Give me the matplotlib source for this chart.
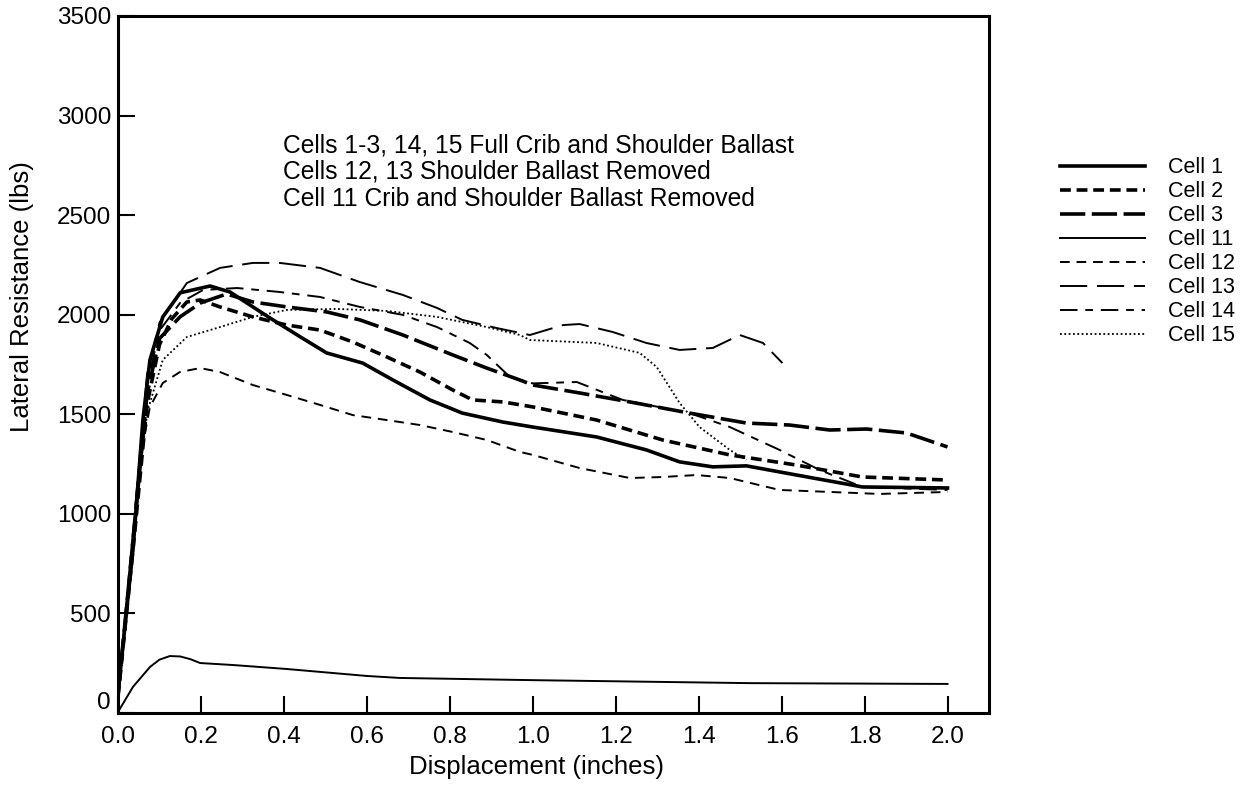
import matplotlib
matplotlib.use("Agg")
import matplotlib.pyplot as plt
from matplotlib.transforms import ScaledTranslation

plt.rcParams['font.family'] = ['Liberation Sans', 'DejaVu Sans']

# Cell curves (displacement in inches, resistance in lbs)
c1_x = [0.0, 0.036, 0.06, 0.077, 0.108, 0.15, 0.222, 0.27, 0.366, 0.44, 0.503, 0.59, 0.663,
        0.752, 0.83, 0.928, 1.0, 1.154, 1.274, 1.354, 1.434, 1.515, 1.636, 1.795, 2.0]
c1_y = [100, 818, 1471, 1773, 1989, 2110, 2144, 2114, 1984, 1888, 1808, 1757, 1672,
        1572, 1506, 1461, 1436, 1386, 1321, 1261, 1236, 1241, 1195, 1135, 1130]

c2_x = [0.0, 0.04, 0.07, 0.1, 0.13, 0.166, 0.198, 0.246, 0.325, 0.407, 0.487, 0.566, 0.648,
        0.728, 0.807, 0.855, 0.928, 1.0, 1.154, 1.313, 1.475, 1.636, 1.795, 2.0]
c2_y = [80, 900, 1550, 1850, 1980, 2064, 2074, 2039, 1989, 1948, 1923, 1863, 1788,
        1712, 1622, 1572, 1562, 1537, 1471, 1371, 1296, 1245, 1185, 1170]

c3_x = [0.0, 0.04, 0.07, 0.1, 0.15, 0.2, 0.262, 0.325, 0.407, 0.503, 0.583, 0.687, 0.807,
        0.889, 0.969, 1.0, 1.113, 1.234, 1.378, 1.515, 1.619, 1.716, 1.805, 1.901, 2.0]
c3_y = [90, 950, 1600, 1880, 1990, 2060, 2104, 2064, 2039, 2014, 1974, 1898, 1798,
        1732, 1672, 1647, 1607, 1562, 1506, 1456, 1446, 1421, 1426, 1406, 1336]

c11_x = [0.0, 0.036, 0.077, 0.1, 0.125, 0.15, 0.175, 0.198, 0.277, 0.407, 0.6, 0.68, 1.0,
         1.523, 2.0]
c11_y = [5, 131, 231, 268, 286, 284, 270, 251, 241, 221, 186, 176, 165, 150, 146]

c12_x = [0.0, 0.035, 0.06, 0.077, 0.108, 0.149, 0.198, 0.246, 0.325, 0.407, 0.487, 0.566,
         0.648, 0.728, 0.807, 0.889, 0.969, 1.0, 1.113, 1.234, 1.313, 1.395, 1.475, 1.595,
         1.716, 1.836, 2.0]
c12_y = [80, 800, 1350, 1537, 1657, 1712, 1732, 1712, 1647, 1597, 1547, 1496,
         1471, 1446, 1411, 1371, 1311, 1296, 1230, 1180, 1185, 1195, 1180, 1120,
         1110, 1100, 1110]

c13_x = [0.0, 0.04, 0.07, 0.1, 0.166, 0.246, 0.325, 0.39, 0.487, 0.583, 0.687, 0.769, 0.83,
         0.913, 0.993, 1.073, 1.113, 1.193, 1.274, 1.354, 1.434, 1.499, 1.555, 1.602]
c13_y = [100, 1000, 1700, 1960, 2159, 2235, 2260, 2260, 2235, 2164, 2099, 2034, 1974,
         1933, 1898, 1948, 1953, 1913, 1858, 1823, 1833, 1898, 1858, 1757]

c14_x = [0.0, 0.04, 0.07, 0.1, 0.15, 0.205, 0.287, 0.39, 0.487, 0.583, 0.687, 0.769, 0.848,
         0.889, 0.945, 1.0, 1.106, 1.217, 1.378, 1.475, 1.595, 1.692, 1.795, 2.0]
c14_y = [100, 950, 1650, 1920, 2060, 2124, 2134, 2114, 2089, 2039, 1999, 1938, 1858,
         1798, 1687, 1655, 1662, 1572, 1506, 1436, 1321, 1220, 1135, 1120]

c15_x = [0.0, 0.035, 0.06, 0.072, 0.108, 0.166, 0.246, 0.325, 0.407, 0.528, 0.648, 0.769,
         0.889, 0.969, 0.993, 1.154, 1.258, 1.299, 1.354, 1.402, 1.475, 1.515]
c15_y = [60, 800, 1350, 1522, 1773, 1888, 1938, 1989, 2024, 2029, 2019, 1989,
         1938, 1898, 1873, 1858, 1808, 1737, 1557, 1436, 1321, 1271]

labels = ["Cell 1", "Cell 2", "Cell 3", "Cell 11", "Cell 12", "Cell 13", "Cell 14", "Cell 15"]

x_ticks = [0.0, 0.2, 0.4, 0.6, 0.8, 1.0, 1.2, 1.4, 1.6, 1.8, 2.0]
y_ticks = [0, 500, 1000, 1500, 2000, 2500, 3000, 3500]

note = ("Cells 1-3, 14, 15 Full Crib and Shoulder Ballast\n"
        "Cells 12, 13 Shoulder Ballast Removed\n"
        "Cell 11 Crib and Shoulder Ballast Removed")

fig = plt.figure(figsize=(12.5, 7.98), dpi=100)
ax = fig.add_axes([0.0944, 0.1065, 0.6968, 0.8735])

k = 'black'
ax.plot(c1_x, c1_y, color=k, lw=2.6, ls='-', label=labels[0])
ax.plot(c2_x, c2_y, color=k, lw=2.6, ls=(0, (3, 1.6)), label=labels[1])
ax.plot(c3_x, c3_y, color=k, lw=2.6, ls=(0, (7, 1.8)), label=labels[2])
ax.plot(c11_x, c11_y, color=k, lw=1.4, ls='-', label=labels[3])
ax.plot(c12_x, c12_y, color=k, lw=1.4, ls=(0, (5, 3.5)), label=labels[4])
ax.plot(c13_x, c13_y, color=k, lw=1.4, ls=(0, (14, 5)), label=labels[5])
ax.plot(c14_x, c14_y, color=k, lw=1.4, ls=(0, (9, 4, 4, 4)), label=labels[6])
ax.plot(c15_x, c15_y, color=k, lw=1.3, ls=(0, (1, 1.4)), label=labels[7])

ax.set_xlim(0, 2.1)
ax.set_ylim(0, 3500)
ax.set_xticks(x_ticks)
ax.set_xticklabels(["%.1f" % v for v in x_ticks])
ax.set_yticks(y_ticks)
ax.tick_params(direction='in', length=12, width=1.5, labelsize=17.5)
ax.tick_params(axis='x', pad=9)
ax.tick_params(axis='y', pad=5)
for s in ax.spines.values():
    s.set_linewidth(2.2)

# the "0" on the y axis sits a little above its tick, clear of "0.0"
zero_lbl = ax.get_yticklabels()[0]
zero_lbl.set_transform(zero_lbl.get_transform() + ScaledTranslation(0, 9 / 72, fig.dpi_scale_trans))

ax.set_xlabel("Displacement (inches)", fontsize=18.5)
ax.set_ylabel("Lateral Resistance (lbs)", fontsize=18.5)
ax.xaxis.set_label_coords(0.48, -0.06)
ax.yaxis.set_label_coords(-0.097, 0.598)

ax.text(0.398, 2717, note, fontsize=17.7, va='center', ha='left', linespacing=1.15)

ax.legend(loc='upper left', bbox_to_anchor=(0.848, 0.803), bbox_transform=fig.transFigure,
          frameon=False, fontsize=15.5, handlelength=3.95, handletextpad=1.07,
          labelspacing=0.14, borderpad=0, borderaxespad=0)

plt.savefig("out.png", dpi=100)
